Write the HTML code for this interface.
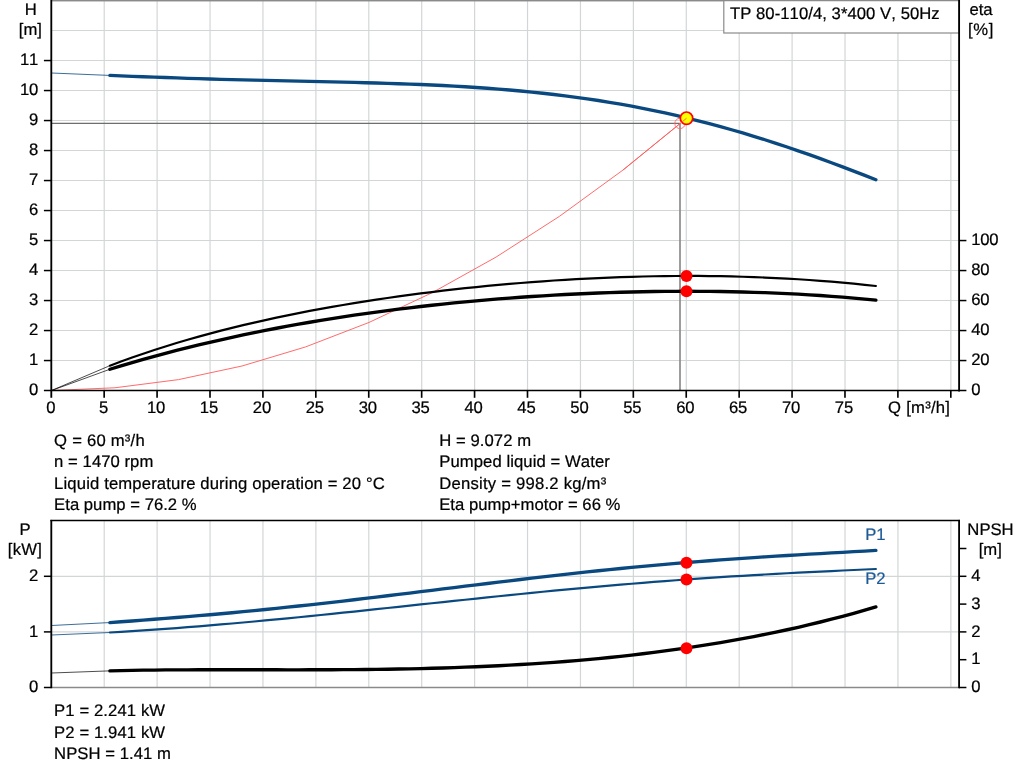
<!DOCTYPE html>
<html lang="en"><head><meta charset="utf-8"><title>TP 80-110/4 pump curve</title>
<style>html,body{margin:0;padding:0;background:#fff}body{width:1024px;height:781px;overflow:hidden}svg{display:block}text{text-rendering:geometricPrecision;font-kerning:none;font-family:"Liberation Sans",sans-serif;font-size:16.67px;fill:#000;stroke:#000;stroke-width:0.22px}</style></head><body>
<svg width="1024" height="781" viewBox="0 0 1024 781">
<rect width="1024" height="781" fill="#fff"/>
<g stroke="#d3d6d7" stroke-width="1.2" fill="none">
<line x1="104.21" y1="1" x2="104.21" y2="390" />
<line x1="104.21" y1="521" x2="104.21" y2="687" />
<line x1="157.13" y1="1" x2="157.13" y2="390" />
<line x1="157.13" y1="521" x2="157.13" y2="687" />
<line x1="210.05" y1="1" x2="210.05" y2="390" />
<line x1="210.05" y1="521" x2="210.05" y2="687" />
<line x1="262.96" y1="1" x2="262.96" y2="390" />
<line x1="262.96" y1="521" x2="262.96" y2="687" />
<line x1="315.88" y1="1" x2="315.88" y2="390" />
<line x1="315.88" y1="521" x2="315.88" y2="687" />
<line x1="368.79" y1="1" x2="368.79" y2="390" />
<line x1="368.79" y1="521" x2="368.79" y2="687" />
<line x1="421.71" y1="1" x2="421.71" y2="390" />
<line x1="421.71" y1="521" x2="421.71" y2="687" />
<line x1="474.62" y1="1" x2="474.62" y2="390" />
<line x1="474.62" y1="521" x2="474.62" y2="687" />
<line x1="527.53" y1="1" x2="527.53" y2="390" />
<line x1="527.53" y1="521" x2="527.53" y2="687" />
<line x1="580.45" y1="1" x2="580.45" y2="390" />
<line x1="580.45" y1="521" x2="580.45" y2="687" />
<line x1="633.37" y1="1" x2="633.37" y2="390" />
<line x1="633.37" y1="521" x2="633.37" y2="687" />
<line x1="686.28" y1="1" x2="686.28" y2="390" />
<line x1="686.28" y1="521" x2="686.28" y2="687" />
<line x1="739.19" y1="1" x2="739.19" y2="390" />
<line x1="739.19" y1="521" x2="739.19" y2="687" />
<line x1="792.11" y1="1" x2="792.11" y2="390" />
<line x1="792.11" y1="521" x2="792.11" y2="687" />
<line x1="845.02" y1="1" x2="845.02" y2="390" />
<line x1="845.02" y1="521" x2="845.02" y2="687" />
<line x1="897.94" y1="1" x2="897.94" y2="390" />
<line x1="897.94" y1="521" x2="897.94" y2="687" />
<line x1="950.86" y1="1" x2="950.86" y2="390" />
<line x1="950.86" y1="521" x2="950.86" y2="687" />
<line x1="52" y1="360.50" x2="959" y2="360.50" />
<line x1="52" y1="330.50" x2="959" y2="330.50" />
<line x1="52" y1="300.50" x2="959" y2="300.50" />
<line x1="52" y1="270.50" x2="959" y2="270.50" />
<line x1="52" y1="240.50" x2="959" y2="240.50" />
<line x1="52" y1="210.50" x2="959" y2="210.50" />
<line x1="52" y1="180.50" x2="959" y2="180.50" />
<line x1="52" y1="150.50" x2="959" y2="150.50" />
<line x1="52" y1="120.50" x2="959" y2="120.50" />
<line x1="52" y1="90.50" x2="959" y2="90.50" />
<line x1="52" y1="60.50" x2="959" y2="60.50" />
<line x1="52" y1="30.50" x2="959" y2="30.50" />
<line x1="52" y1="576.30" x2="959" y2="576.30" />
<line x1="52" y1="631.90" x2="959" y2="631.90" />
</g>
<line x1="51" y1="0.5" x2="960" y2="0.5" stroke="#8a8a8a" stroke-width="1.4"/>
<line x1="51" y1="687.5" x2="960" y2="687.5" stroke="#8a8a8a" stroke-width="1.3"/>
<line x1="52" y1="123.4" x2="680" y2="123.4" stroke="#6e6e6e" stroke-width="1.15"/>
<line x1="680" y1="123.4" x2="680" y2="390" stroke="#8c8c8c" stroke-width="1.7"/>
<polyline points="51.50,390.50 115.00,387.78 178.50,379.61 241.99,366.01 305.49,346.95 368.99,322.46 432.49,292.52 495.99,257.14 559.48,216.32 622.98,170.05 686.48,118.34" fill="none" stroke="#ff5a5a" stroke-width="0.9"/>
<path d="M51.50,73.00 L109.90,75.43" stroke="#0a4980" stroke-width="0.8" fill="none"/>
<path d="M109.90,75.43 L121.00,75.87 L132.10,76.31 L143.20,76.73 L154.31,77.14 L165.41,77.54 L176.51,77.93 L187.61,78.30 L198.71,78.65 L209.81,78.98 L220.91,79.30 L232.02,79.61 L243.12,79.89 L254.22,80.17 L265.32,80.43 L276.42,80.68 L287.52,80.93 L298.62,81.17 L309.73,81.41 L320.83,81.65 L331.93,81.90 L343.03,82.16 L354.13,82.42 L365.23,82.71 L376.33,83.02 L387.44,83.35 L398.54,83.71 L409.64,84.10 L420.74,84.54 L431.84,85.02 L442.94,85.54 L454.04,86.12 L465.15,86.76 L476.25,87.46 L487.35,88.22 L498.45,89.06 L509.55,89.97 L520.65,90.97 L531.76,92.05 L542.86,93.21 L553.96,94.47 L565.06,95.83 L576.16,97.29 L587.26,98.85 L598.36,100.53 L609.47,102.31 L620.57,104.20 L631.67,106.21 L642.77,108.34 L653.87,110.58 L664.97,112.95 L676.07,115.44 L687.18,118.06 L698.28,120.79 L709.38,123.65 L720.48,126.63 L731.58,129.74 L742.68,132.96 L753.78,136.30 L764.89,139.76 L775.99,143.33 L787.09,147.01 L798.19,150.79 L809.29,154.67 L820.39,158.65 L831.49,162.72 L842.60,166.87 L853.70,171.10 L864.80,175.39 L875.90,179.74" stroke="#0a4980" stroke-width="3.35" fill="none" stroke-linecap="round"/>
<path d="M51.50,390.50 L109.90,365.66" stroke="#000" stroke-width="0.7" fill="none"/>
<path d="M109.90,365.66 L121.00,361.51 L132.10,357.52 L143.20,353.68 L154.31,350.00 L165.41,346.45 L176.51,343.05 L187.61,339.77 L198.71,336.62 L209.81,333.59 L220.91,330.67 L232.02,327.87 L243.12,325.16 L254.22,322.56 L265.32,320.06 L276.42,317.65 L287.52,315.33 L298.62,313.09 L309.73,310.94 L320.83,308.87 L331.93,306.88 L343.03,304.96 L354.13,303.11 L365.23,301.33 L376.33,299.62 L387.44,297.98 L398.54,296.40 L409.64,294.88 L420.74,293.43 L431.84,292.04 L442.94,290.70 L454.04,289.43 L465.15,288.21 L476.25,287.05 L487.35,285.95 L498.45,284.90 L509.55,283.91 L520.65,282.98 L531.76,282.10 L542.86,281.28 L553.96,280.52 L565.06,279.81 L576.16,279.16 L587.26,278.57 L598.36,278.03 L609.47,277.56 L620.57,277.14 L631.67,276.79 L642.77,276.49 L653.87,276.26 L664.97,276.09 L676.07,275.98 L687.18,275.94 L698.28,275.97 L709.38,276.05 L720.48,276.21 L731.58,276.44 L742.68,276.73 L753.78,277.10 L764.89,277.53 L775.99,278.04 L787.09,278.62 L798.19,279.27 L809.29,280.00 L820.39,280.81 L831.49,281.69 L842.60,282.65 L853.70,283.69 L864.80,284.80 L875.90,286.00" stroke="#000" stroke-width="2.2" fill="none" stroke-linecap="round"/>
<path d="M51.50,390.50 L109.90,369.26" stroke="#000" stroke-width="0.7" fill="none"/>
<path d="M109.90,369.26 L121.00,365.87 L132.10,362.58 L143.20,359.40 L154.31,356.32 L165.41,353.33 L176.51,350.44 L187.61,347.63 L198.71,344.92 L209.81,342.30 L220.91,339.76 L232.02,337.30 L243.12,334.92 L254.22,332.62 L265.32,330.40 L276.42,328.26 L287.52,326.19 L298.62,324.19 L309.73,322.26 L320.83,320.40 L331.93,318.60 L343.03,316.88 L354.13,315.21 L365.23,313.61 L376.33,312.07 L387.44,310.60 L398.54,309.18 L409.64,307.82 L420.74,306.52 L431.84,305.27 L442.94,304.08 L454.04,302.95 L465.15,301.87 L476.25,300.84 L487.35,299.87 L498.45,298.95 L509.55,298.09 L520.65,297.27 L531.76,296.51 L542.86,295.80 L553.96,295.14 L565.06,294.54 L576.16,293.98 L587.26,293.48 L598.36,293.02 L609.47,292.62 L620.57,292.27 L631.67,291.97 L642.77,291.73 L653.87,291.54 L664.97,291.40 L676.07,291.32 L687.18,291.29 L698.28,291.32 L709.38,291.40 L720.48,291.54 L731.58,291.74 L742.68,291.99 L753.78,292.31 L764.89,292.69 L775.99,293.13 L787.09,293.63 L798.19,294.20 L809.29,294.84 L820.39,295.54 L831.49,296.31 L842.60,297.15 L853.70,298.06 L864.80,299.05 L875.90,300.11" stroke="#000" stroke-width="3.35" fill="none" stroke-linecap="round"/>
<path d="M51.50,625.50 L109.90,622.56" stroke="#0a4980" stroke-width="0.8" fill="none"/>
<path d="M109.90,622.56 L121.00,621.77 L132.10,620.96 L143.20,620.14 L154.31,619.29 L165.41,618.43 L176.51,617.54 L187.61,616.63 L198.71,615.69 L209.81,614.73 L220.91,613.73 L232.02,612.71 L243.12,611.66 L254.22,610.58 L265.32,609.48 L276.42,608.35 L287.52,607.19 L298.62,606.00 L309.73,604.80 L320.83,603.56 L331.93,602.31 L343.03,601.04 L354.13,599.74 L365.23,598.43 L376.33,597.11 L387.44,595.77 L398.54,594.42 L409.64,593.06 L420.74,591.70 L431.84,590.33 L442.94,588.96 L454.04,587.58 L465.15,586.21 L476.25,584.85 L487.35,583.49 L498.45,582.14 L509.55,580.81 L520.65,579.48 L531.76,578.18 L542.86,576.89 L553.96,575.61 L565.06,574.37 L576.16,573.14 L587.26,571.94 L598.36,570.77 L609.47,569.62 L620.57,568.50 L631.67,567.42 L642.77,566.36 L653.87,565.34 L664.97,564.35 L676.07,563.39 L687.18,562.46 L698.28,561.57 L709.38,560.71 L720.48,559.87 L731.58,559.07 L742.68,558.30 L753.78,557.56 L764.89,556.84 L775.99,556.15 L787.09,555.47 L798.19,554.82 L809.29,554.18 L820.39,553.55 L831.49,552.93 L842.60,552.31 L853.70,551.69 L864.80,551.06 L875.90,550.43" stroke="#0a4980" stroke-width="3.35" fill="none" stroke-linecap="round"/>
<path d="M51.50,635.00 L109.90,632.50" stroke="#0a4980" stroke-width="0.8" fill="none"/>
<path d="M109.90,632.50 L121.00,631.83 L132.10,631.13 L143.20,630.40 L154.31,629.64 L165.41,628.85 L176.51,628.03 L187.61,627.17 L198.71,626.29 L209.81,625.38 L220.91,624.44 L232.02,623.48 L243.12,622.49 L254.22,621.48 L265.32,620.44 L276.42,619.39 L287.52,618.31 L298.62,617.22 L309.73,616.11 L320.83,614.98 L331.93,613.85 L343.03,612.70 L354.13,611.54 L365.23,610.37 L376.33,609.19 L387.44,608.01 L398.54,606.82 L409.64,605.63 L420.74,604.45 L431.84,603.26 L442.94,602.07 L454.04,600.89 L465.15,599.72 L476.25,598.55 L487.35,597.39 L498.45,596.24 L509.55,595.11 L520.65,593.98 L531.76,592.88 L542.86,591.78 L553.96,590.71 L565.06,589.65 L576.16,588.61 L587.26,587.59 L598.36,586.59 L609.47,585.62 L620.57,584.67 L631.67,583.74 L642.77,582.83 L653.87,581.95 L664.97,581.09 L676.07,580.26 L687.18,579.45 L698.28,578.67 L709.38,577.91 L720.48,577.18 L731.58,576.47 L742.68,575.79 L753.78,575.12 L764.89,574.48 L775.99,573.86 L787.09,573.26 L798.19,572.68 L809.29,572.12 L820.39,571.57 L831.49,571.03 L842.60,570.51 L853.70,570.00 L864.80,569.49 L875.90,568.99" stroke="#0a4980" stroke-width="2.2" fill="none" stroke-linecap="round"/>
<path d="M51.50,673.00 L109.90,670.87" stroke="#000" stroke-width="0.7" fill="none"/>
<path d="M109.90,670.87 L121.00,670.60 L132.10,670.38 L143.20,670.20 L154.31,670.06 L165.41,669.95 L176.51,669.86 L187.61,669.81 L198.71,669.77 L209.81,669.75 L220.91,669.74 L232.02,669.74 L243.12,669.75 L254.22,669.77 L265.32,669.78 L276.42,669.79 L287.52,669.80 L298.62,669.80 L309.73,669.79 L320.83,669.76 L331.93,669.72 L343.03,669.67 L354.13,669.59 L365.23,669.49 L376.33,669.36 L387.44,669.21 L398.54,669.03 L409.64,668.81 L420.74,668.57 L431.84,668.28 L442.94,667.96 L454.04,667.60 L465.15,667.20 L476.25,666.76 L487.35,666.27 L498.45,665.74 L509.55,665.16 L520.65,664.52 L531.76,663.84 L542.86,663.10 L553.96,662.31 L565.06,661.46 L576.16,660.55 L587.26,659.58 L598.36,658.55 L609.47,657.46 L620.57,656.30 L631.67,655.07 L642.77,653.77 L653.87,652.40 L664.97,650.96 L676.07,649.45 L687.18,647.86 L698.28,646.18 L709.38,644.43 L720.48,642.60 L731.58,640.68 L742.68,638.68 L753.78,636.58 L764.89,634.39 L775.99,632.11 L787.09,629.74 L798.19,627.26 L809.29,624.69 L820.39,622.00 L831.49,619.22 L842.60,616.32 L853.70,613.31 L864.80,610.19 L875.90,606.94" stroke="#000" stroke-width="3.35" fill="none" stroke-linecap="round"/>
<circle cx="680" cy="123.4" r="5.2" fill="none" stroke="#ff6a6a" stroke-width="0.9"/>
<circle cx="686.5" cy="118.2" r="6.2" fill="#ffff00" stroke="#ff0000" stroke-width="1.7"/>
<line x1="622.98" y1="170.05" x2="686.5" y2="118.3" stroke="#ff5a5a" stroke-width="0.9"/>
<circle cx="686.5" cy="276.00" r="6" fill="#ff0000"/>
<circle cx="686.5" cy="291.20" r="6" fill="#ff0000"/>
<circle cx="686.5" cy="562.75" r="6" fill="#ff0000"/>
<circle cx="686.5" cy="579.50" r="6" fill="#ff0000"/>
<circle cx="686.5" cy="648.25" r="6" fill="#ff0000"/>
<rect x="723.8" y="-2" width="235.5" height="35" fill="#fff" stroke="#8a8a8a" stroke-width="1.2"/>
<line x1="51" y1="0.5" x2="960" y2="0.5" stroke="#8a8a8a" stroke-width="1.4"/>
<text x="729.9" y="19" textLength="209.8" lengthAdjust="spacing">TP 80-110/4, 3*400 V, 50Hz</text>
<g stroke="#000" stroke-width="1.85" fill="none">
<line x1="51.3" y1="0" x2="51.3" y2="397.8"/>
<line x1="959.1" y1="0" x2="959.1" y2="391.4"/>
<line x1="51.3" y1="519.9" x2="51.3" y2="688.2"/>
<line x1="959.1" y1="519.9" x2="959.1" y2="688.2"/>
</g>
<g stroke="#000" stroke-width="1.5" fill="none">
<line x1="43.9" y1="390.55" x2="966.4" y2="390.55"/>
<line x1="43.9" y1="360.55" x2="51.3" y2="360.55"/>
<line x1="43.9" y1="330.55" x2="51.3" y2="330.55"/>
<line x1="43.9" y1="300.55" x2="51.3" y2="300.55"/>
<line x1="43.9" y1="270.55" x2="51.3" y2="270.55"/>
<line x1="43.9" y1="240.55" x2="51.3" y2="240.55"/>
<line x1="43.9" y1="210.55" x2="51.3" y2="210.55"/>
<line x1="43.9" y1="180.55" x2="51.3" y2="180.55"/>
<line x1="43.9" y1="150.55" x2="51.3" y2="150.55"/>
<line x1="43.9" y1="120.55" x2="51.3" y2="120.55"/>
<line x1="43.9" y1="90.55" x2="51.3" y2="90.55"/>
<line x1="43.9" y1="60.55" x2="51.3" y2="60.55"/>
<line x1="959.1" y1="360.55" x2="966.4" y2="360.55"/>
<line x1="959.1" y1="330.55" x2="966.4" y2="330.55"/>
<line x1="959.1" y1="300.55" x2="966.4" y2="300.55"/>
<line x1="959.1" y1="270.55" x2="966.4" y2="270.55"/>
<line x1="959.1" y1="240.55" x2="966.4" y2="240.55"/>
<line x1="50.4" y1="520.6" x2="960" y2="520.6"/>
<line x1="43.9" y1="576.30" x2="51.3" y2="576.30"/>
<line x1="43.9" y1="631.90" x2="51.3" y2="631.90"/>
<line x1="43.9" y1="687.50" x2="51.3" y2="687.50"/>
<line x1="959.1" y1="687.50" x2="966.4" y2="687.50"/>
<line x1="959.1" y1="659.70" x2="966.4" y2="659.70"/>
<line x1="959.1" y1="631.90" x2="966.4" y2="631.90"/>
<line x1="959.1" y1="604.10" x2="966.4" y2="604.10"/>
<line x1="959.1" y1="576.30" x2="966.4" y2="576.30"/>
<line x1="959.1" y1="548.50" x2="966.4" y2="548.50"/>
</g>
<g stroke="#000" stroke-width="1.65" fill="none">
<line x1="104.16" y1="390.4" x2="104.16" y2="397.8"/>
<line x1="157.08" y1="390.4" x2="157.08" y2="397.8"/>
<line x1="210.00" y1="390.4" x2="210.00" y2="397.8"/>
<line x1="262.91" y1="390.4" x2="262.91" y2="397.8"/>
<line x1="315.82" y1="390.4" x2="315.82" y2="397.8"/>
<line x1="368.74" y1="390.4" x2="368.74" y2="397.8"/>
<line x1="421.66" y1="390.4" x2="421.66" y2="397.8"/>
<line x1="474.57" y1="390.4" x2="474.57" y2="397.8"/>
<line x1="527.49" y1="390.4" x2="527.49" y2="397.8"/>
<line x1="580.40" y1="390.4" x2="580.40" y2="397.8"/>
<line x1="633.32" y1="390.4" x2="633.32" y2="397.8"/>
<line x1="686.23" y1="390.4" x2="686.23" y2="397.8"/>
<line x1="739.14" y1="390.4" x2="739.14" y2="397.8"/>
<line x1="792.06" y1="390.4" x2="792.06" y2="397.8"/>
<line x1="844.98" y1="390.4" x2="844.98" y2="397.8"/>
<line x1="897.89" y1="390.4" x2="897.89" y2="397.8"/>
<line x1="950.81" y1="390.4" x2="950.81" y2="397.8"/>
</g>
<g text-anchor="end" style="letter-spacing:-0.27px">
<text x="38.0" y="395.1">0</text>
<text x="38.0" y="365.1">1</text>
<text x="38.0" y="335.1">2</text>
<text x="38.0" y="305.1">3</text>
<text x="38.0" y="275.1">4</text>
<text x="38.0" y="245.1">5</text>
<text x="38.0" y="215.1">6</text>
<text x="38.0" y="185.1">7</text>
<text x="38.0" y="155.1">8</text>
<text x="38.0" y="125.1">9</text>
<text x="38.0" y="95.1">10</text>
<text x="38.0" y="65.1">11</text>
<text x="38.0" y="692.1">0</text>
<text x="38.0" y="636.5">1</text>
<text x="38.0" y="580.9">2</text>
</g>
<g text-anchor="start" style="letter-spacing:-0.27px">
<text x="971.3" y="395.1">0</text>
<text x="971.3" y="365.1">20</text>
<text x="971.3" y="335.1">40</text>
<text x="971.3" y="305.1">60</text>
<text x="971.3" y="275.1">80</text>
<text x="971.3" y="245.1">100</text>
<text x="971.3" y="692.1">0</text>
<text x="971.3" y="664.3">1</text>
<text x="971.3" y="636.5">2</text>
<text x="971.3" y="608.7">3</text>
<text x="971.3" y="580.9">4</text>
</g>
<g text-anchor="middle">
<text x="50.7" y="413.3" style="letter-spacing:-0.2px">0</text>
<text x="103.6" y="413.3" style="letter-spacing:-0.2px">5</text>
<text x="156.0" y="413.3" style="letter-spacing:-0.2px">10</text>
<text x="208.9" y="413.3" style="letter-spacing:-0.2px">15</text>
<text x="261.9" y="413.3" style="letter-spacing:-0.2px">20</text>
<text x="314.8" y="413.3" style="letter-spacing:-0.2px">25</text>
<text x="367.7" y="413.3" style="letter-spacing:-0.2px">30</text>
<text x="420.6" y="413.3" style="letter-spacing:-0.2px">35</text>
<text x="473.5" y="413.3" style="letter-spacing:-0.2px">40</text>
<text x="526.4" y="413.3" style="letter-spacing:-0.2px">45</text>
<text x="579.4" y="413.3" style="letter-spacing:-0.2px">50</text>
<text x="632.3" y="413.3" style="letter-spacing:-0.2px">55</text>
<text x="685.2" y="413.3" style="letter-spacing:-0.2px">60</text>
<text x="738.1" y="413.3" style="letter-spacing:-0.2px">65</text>
<text x="791.0" y="413.3" style="letter-spacing:-0.2px">70</text>
<text x="843.9" y="413.3" style="letter-spacing:-0.2px">75</text>
<text x="30.8" y="14.6">H</text><text x="30.4" y="34.6">[m]</text>
<text x="981" y="14.8">eta</text><text x="981" y="34.8" style="letter-spacing:0.6px">[%]</text>
<text x="25" y="534.6">P</text><text x="25" y="554.6" style="letter-spacing:0.3px">[kW]</text>
<text x="990.5" y="534.6">NPSH</text><text x="990.3" y="554.6">[m]</text>
</g>
<text x="950" y="412.5" text-anchor="end" textLength="61.9" lengthAdjust="spacing">Q [m³/h]</text>
<text x="865.2" y="540" fill="#1c5a96" style="fill:#1c5a96;stroke:#1c5a96">P1</text>
<text x="865.2" y="584" fill="#1c5a96" style="fill:#1c5a96;stroke:#1c5a96">P2</text>
<text x="54.1" y="445.6" textLength="90.6" lengthAdjust="spacing">Q = 60 m³/h</text>
<text x="439.2" y="445.6" textLength="91.9" lengthAdjust="spacing">H = 9.072 m</text>
<text x="54.1" y="467.1" textLength="99.2" lengthAdjust="spacing">n = 1470 rpm</text>
<text x="439.2" y="467.1" textLength="170.6" lengthAdjust="spacing">Pumped liquid = Water</text>
<text x="54.1" y="488.6" textLength="330.7" lengthAdjust="spacing">Liquid temperature during operation = 20 °C</text>
<text x="439.2" y="488.6" textLength="167.0" lengthAdjust="spacing">Density = 998.2 kg/m³</text>
<text x="54.1" y="510.1" textLength="142.5" lengthAdjust="spacing">Eta pump = 76.2 %</text>
<text x="439.2" y="510.1" textLength="181.2" lengthAdjust="spacing">Eta pump+motor = 66 %</text>
<text x="54.1" y="716.0" textLength="111.0" lengthAdjust="spacing">P1 = 2.241 kW</text>
<text x="54.1" y="737.6" textLength="111.0" lengthAdjust="spacing">P2 = 1.941 kW</text>
<text x="54.1" y="759.0" textLength="116.8" lengthAdjust="spacing">NPSH = 1.41 m</text>
</svg></body></html>
